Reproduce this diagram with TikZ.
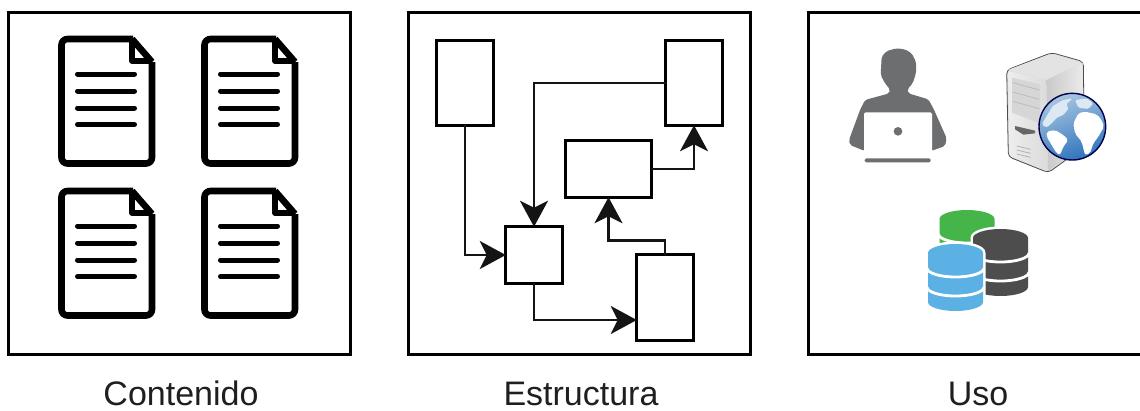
\documentclass[tikz,border=0pt]{standalone}
\usepackage{fontspec}
\setmainfont{Liberation Sans}
\usetikzlibrary{arrows.meta}
\definecolor{persongray}{HTML}{6D6E70}
\definecolor{dbgreen}{HTML}{45B549}
\definecolor{dbdark}{HTML}{4D4D4D}
\definecolor{dbblue}{HTML}{5BB0E4}
\definecolor{globetop}{HTML}{A9C6E0}
\definecolor{globebot}{HTML}{2F74BC}
\definecolor{landpale}{HTML}{DCE8F2}
\tikzset{
  panel/.style={draw=black,line width=3pt,fill=white,inner sep=0pt,outer sep=0pt},
  flowbox/.style={draw=black,line width=3pt,fill=white,inner sep=0pt,outer sep=0pt},
  flow/.style={draw=black!92,line width=2.9pt,-{Stealth[length=26pt,width=28pt,inset=7pt]}},
  caption/.style={anchor=base,font=\fontsize{34}{36}\selectfont,text=black!88,text depth=0pt,inner sep=0pt},
  docline/.style={line width=5pt,line cap=round},
  pics/docicon/.style={code={
    \draw[line width=6.6pt,line join=round,rounded corners=6pt] (133,39) -- (61.5,39) -- (61.5,163.5) -- (152,163.5) -- (152,62);
    \draw[line width=6.6pt,line join=round] (132,39) -- (152,62);
    \draw[line width=5.5pt,line join=round] (132,39) -- (132,61) -- (152,61);
    \foreach \yy in {74,91,108,124.5} \draw[docline] (77.5,\yy) -- (134.5,\yy);
  }},
}
% cylinder: \dbcyl{x left}{y top}{colour}
\newcommand{\dbcyl}[3]{%
  \begin{scope}[shift={(#1,#2)}]
  \path[draw=white,fill=white,line width=5pt] (0,9) arc[x radius=27.5,y radius=9,start angle=180,end angle=360] -- (55,58) arc[x radius=27.5,y radius=9,start angle=0,end angle=180] -- cycle;
  \fill[#3] (0,9) arc[x radius=27.5,y radius=9,start angle=180,end angle=360] -- (55,58) arc[x radius=27.5,y radius=9,start angle=0,end angle=180] -- cycle;
  \foreach \yy in {24,43}
    \draw[white,line width=2.8pt] (-1,\yy) arc[x radius=28.5,y radius=9,start angle=180,end angle=0];
  \end{scope}}
\begin{document}
\begin{tikzpicture}[x=1pt,y=-1pt]
\useasboundingbox (0,0) rectangle (1140,410);
\fill[white] (0,0) rectangle (1140,410);
% panels
\node[panel,minimum width=342.5pt,minimum height=341.5pt] (p1) at (179.7,183.5) {};
\node[panel,minimum width=341.5pt,minimum height=341.5pt] (p2) at (579.3,183.5) {};
\begin{scope}
\clip (0,0) rectangle (1140,410);
\node[panel,minimum width=342.5pt,minimum height=341.5pt] (p3) at (979.5,183.5) {};
\end{scope}
% documents
\pic at (0,0) {docicon};
\pic at (143,0) {docicon};
\pic at (0,152) {docicon};
\pic at (143,152) {docicon};
% flow boxes
\node[flowbox,minimum width=56.5pt,minimum height=84.5pt] (a) at (465,83) {};
\node[flowbox,minimum width=56.5pt,minimum height=84.5pt] (b) at (694,83) {};
\node[flowbox,minimum width=85.5pt,minimum height=56.5pt] (c) at (608.5,169) {};
\node[flowbox,minimum width=56.5pt,minimum height=56.5pt] (d) at (534,255) {};
\node[flowbox,minimum width=56.5pt,minimum height=85.5pt] (e) at (665,297.5) {};
\draw[flow] (a.south) |- (d.west);
\draw[flow] (b.west) -| (d.north);
\draw[flow] (c.east) -| (b.south);
\draw[flow] (e.north) -- ++(0,-14) -| (c.south);
\draw[flow] (d.south) |- ([yshift=-22.5pt]e.west);
% person
\begin{scope}[shift={(830,40)},scale=1/3]
\fill[persongray,rounded corners=2pt] (200,25) -- (170,33) -- (155,50) -- (152,105) -- (165,130) -- (180,148) -- (178,160) -- (105,180) -- (90,210) -- (57,300) -- (60,315) -- (102,332) -- (306,332) -- (345,318) -- (350,295) -- (310,205) -- (295,178) -- (235,160) -- (232,148) -- (248,130) -- (258,100) -- (258,65) -- (245,40) -- (225,28) -- cycle;
\fill[white,rounded corners=1.5pt] (102,217) -- (306,217) -- (306,340) -- (102,340) -- cycle;
\fill[persongray] (204,274) circle[radius=13];
\fill[persongray,rounded corners=1.5pt] (104,355) rectangle (302,367);
\end{scope}
% server
\begin{scope}[shift={(990,40)},scale=1/3]
\fill[gray!25,draw=black!70,line width=.8pt,rounded corners=4pt] (50,90) -- (185,38) -- (280,65) -- (283,320) -- (175,398) -- (55,350) -- cycle;
\fill[gray!22,rounded corners=2pt] (53,90) -- (185,41) -- (277,67) -- (170,118) -- cycle;
\shade[left color=gray!14,right color=gray!28,rounded corners=2pt] (54,93) -- (170,120) -- (172,394) -- (58,348) -- cycle;
\shade[left color=gray!42,right color=gray!16] (170,120) -- (278,68) -- (280,319) -- (174,394) -- cycle;
\fill[gray!32] (66,113) -- (150,133) -- (150,250) -- (66,218) -- cycle;
\foreach \yy in {150,178,206} \draw[gray!55,line width=.7pt] (68,\yy-22) -- (148,\yy);
\fill[black!60] (75,258) -- (135,272) -- (135,280) -- (100,284) -- (75,268) -- cycle;
\foreach \yy in {318,330,342} \draw[gray!60,line width=.8pt] (80,\yy) -- (122,\yy+10);
\end{scope}
% globe
\begin{scope}[shift={(1030,85)},scale=1/3]
\shade[top color=globetop,bottom color=globebot,shading angle=20,draw=blue!30!black,line width=1.4pt] (127,125) circle[radius=100];
\fill[landpale,rounded corners=1.5pt] (35,118) -- (55,85) -- (68,63) -- (100,45) -- (128,40) -- (108,58) -- (116,70) -- (100,90) -- (80,98) -- (70,110) -- (50,128) -- cycle;
\fill[landpale,rounded corners=1.5pt] (135,45) -- (170,40) -- (190,55) -- (175,72) -- (145,68) -- cycle;
\fill[white,rounded corners=2pt] (50,140) -- (75,135) -- (100,150) -- (115,165) -- (100,185) -- (90,210) -- (80,205) -- (65,180) -- (50,155) -- cycle;
\fill[white,rounded corners=2pt] (130,115) -- (145,85) -- (165,80) -- (200,88) -- (215,105) -- (222,125) -- (205,155) -- (190,175) -- (180,205) -- (165,210) -- (155,170) -- (135,145) -- cycle;
\end{scope}
% databases
\dbcyl{939.5}{210}{dbgreen}
\dbcyl{973}{229}{dbdark}
\dbcyl{928}{244}{dbblue}
% captions
\node[caption] (t1) at (181,405) {Contenido};
\node[caption] (t2) at (581,405) {Estructura};
\node[caption] (t3) at (978,405) {Uso};
\end{tikzpicture}
\end{document}
